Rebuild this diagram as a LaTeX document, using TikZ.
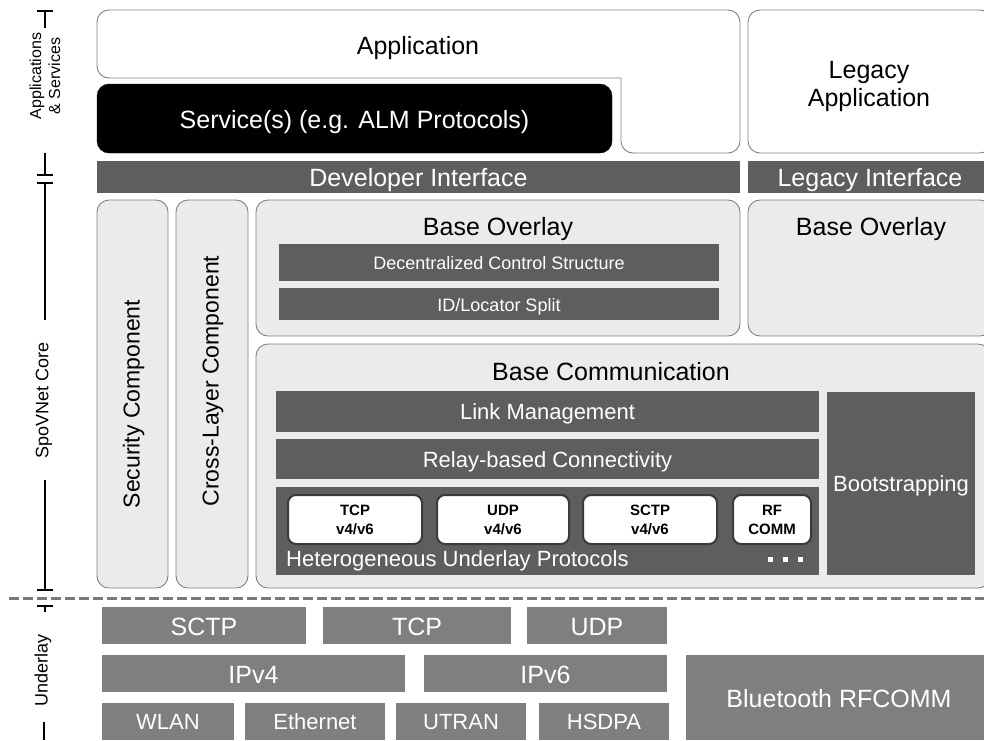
\documentclass[tikz,border=0pt]{standalone}
\usepackage{fontspec}
\setmainfont{Liberation Sans}
\definecolor{darkbar}{RGB}{94,94,94}
\definecolor{ulbox}{RGB}{127,127,127}
\definecolor{lightfill}{RGB}{235,235,235}
\definecolor{edgegray}{RGB}{128,128,128}
\definecolor{protoedge}{RGB}{58,58,58}
\definecolor{dashgray}{RGB}{120,120,120}
\newcommand{\placebox}[6]{\node[#1, minimum width={(#4)-(#2)}, minimum height={(#5)-(#3)}] (#6) at ({((#2)+(#4))/2},{-((#3)+(#5))/2})}
\begin{document}
\begin{tikzpicture}[x=1pt,y=1pt,
  base/.style={inner sep=0pt, outer sep=0pt, rectangle},
  tf/.style={font=\fontsize{25}{30}\selectfont, text height=21pt, text depth=2pt},
  tg/.style={font=\fontsize{22}{26}\selectfont, text height=19pt, text depth=2.5pt},
  tm/.style={font=\fontsize{18}{22}\selectfont, text height=15pt, text depth=1pt},
  rot/.style={rotate=90, font=\fontsize{23}{28}\selectfont, text height=18pt, text depth=5pt},
  bar/.style={base, fill=darkbar, text=white},
  ubar/.style={base, fill=ulbox, text=white},
  cont/.style={base, fill=lightfill, draw=edgegray, line width=0.9pt, rounded corners=12pt},
  proto/.style={base, fill=white, draw=protoedge, line width=2pt, rounded corners=8pt, align=center, font=\bfseries\fontsize{15}{19}\selectfont},
  axisline/.style={line width=1.2pt, black},
  axislabel/.style={rotate=90, align=center}
]
\useasboundingbox (0,0) rectangle (984,-740);
\clip (0,0) rectangle (984,-740);

% Application (notched shape)
\draw[draw=edgegray, line width=0.9pt, fill=white] (300,-10) -- (728,-10)
  arc[start angle=90,end angle=0,radius=12pt] -- (740,-141)
  arc[start angle=0,end angle=-90,radius=12pt] -- (633,-153)
  arc[start angle=270,end angle=180,radius=12pt] -- (621,-78) -- (109,-78)
  arc[start angle=270,end angle=180,radius=12pt] -- (97,-22)
  arc[start angle=180,end angle=90,radius=12pt] -- cycle;
\node[tf] (apptxt) at (418,-45) {Application};

\placebox{base, fill=black, draw=black, rounded corners=12pt, text=white, tf}{97}{84}{612}{153}{service} {Service(s) (e.g. ALM Protocols)};
\placebox{base, fill=white, draw=edgegray, line width=0.9pt, rounded corners=12pt}{748}{10}{992}{153}{legacy} {};
\node[align=center, font=\fontsize{25}{28}\selectfont] (legacytxt) at (869,-86) {Legacy\\Application};

\placebox{bar, tf}{97}{161}{740}{193}{devif} {Developer Interface};
\placebox{bar, tf}{748}{161}{992}{193}{legif} {Legacy Interface};

% SpoVNet core
\placebox{cont}{97}{200}{168}{588}{sec} {};
\node[rot] (sectxt) at (133,-404) {Security Component};
\placebox{cont}{176}{200}{248}{588}{cross} {};
\node[rot] (crosstxt) at (212,-381) {Cross-Layer Component};

\placebox{cont}{256}{200}{740}{336}{bov} {};
\node[tf] (bovtxt) at (498,-226) {Base Overlay};
\placebox{bar, tm}{279}{244}{719}{281}{dcs} {Decentralized Control Structure};
\placebox{bar, tm}{279}{288}{719}{320}{idl} {ID/Locator Split};

\placebox{cont}{748}{200}{992}{336}{bovr} {};
\node[tf] (bovrtxt) at (871,-226) {Base Overlay};

\placebox{cont}{256}{344}{990}{588}{bcomm} {};
\node[tf] (bcommtxt) at (611,-371) {Base Communication};
\placebox{bar, tg}{276}{391}{819}{432}{link} {Link Management};
\placebox{bar, tg}{276}{439}{819}{479}{relay} {Relay-based Connectivity};
\placebox{bar}{276}{487}{819}{575}{hetero} {};
\node[tg, text=white, anchor=west, inner sep=0pt] (hettxt) at (286,-558.5) {Heterogeneous Underlay Protocols};
\placebox{proto}{288}{495}{422}{544}{ptcp} {TCP\\v4/v6};
\placebox{proto}{437}{495}{569}{544}{pudp} {UDP\\v4/v6};
\placebox{proto}{583}{495}{717}{544}{psctp} {SCTP\\v4/v6};
\placebox{proto}{733}{495}{811}{544}{prf} {RF\\COMM};
\fill[white] (768,-557) rectangle (773,-562);
\fill[white] (783,-557) rectangle (788,-562);
\fill[white] (798,-557) rectangle (803,-562);
\placebox{bar, tg}{827}{392}{975}{575}{boot} {Bootstrapping};

% separator
\draw[dashgray, line width=3pt, dash pattern=on 10pt off 4pt] (9,-598) -- (984,-598);

% Underlay
\placebox{ubar, tf}{102}{607}{306}{644}{usctp} {SCTP};
\placebox{ubar, tf}{323}{607}{511}{644}{utcp} {TCP};
\placebox{ubar, tf}{527}{607}{667}{644}{uudp} {UDP};
\placebox{ubar, tf}{102}{655}{405}{692}{ipvfour} {IPv4};
\placebox{ubar, tf}{424}{655}{667}{692}{ipvsix} {IPv6};
\placebox{ubar, tg}{102}{703}{234}{740}{wlan} {WLAN};
\placebox{ubar, tg}{245}{703}{385}{740}{eth} {Ethernet};
\placebox{ubar, tg}{396}{703}{526}{740}{utran} {UTRAN};
\placebox{ubar, tg}{539}{703}{669}{740}{hsdpa} {HSDPA};
\placebox{ubar, tf}{686}{655}{992}{740}{bt} {Bluetooth RFCOMM};

% left axis
\draw[axisline] (37,-11) -- (53,-11) (45,-11) -- (45,-28);
\draw[axisline] (45,-153) -- (45,-175) (37,-175) -- (53,-175);
\draw[axisline] (37,-183) -- (53,-183) (45,-183) -- (45,-320);
\draw[axisline] (45,-480) -- (45,-590) (37,-590) -- (53,-590);
\draw[axisline] (37,-606) -- (53,-606) (45,-606) -- (45,-612);
\draw[axisline] (44,-722) -- (44,-740);
\node[axislabel, font=\fontsize{16}{19}\selectfont] (lblapp) at (45,-76) {Applications\\\& Services};
\node[axislabel, font=\fontsize{18}{22}\selectfont] (lblcore) at (44,-400) {SpoVNet Core};
\node[axislabel, font=\fontsize{18}{22}\selectfont] (lblul) at (43,-670) {Underlay};
\end{tikzpicture}
\end{document}
